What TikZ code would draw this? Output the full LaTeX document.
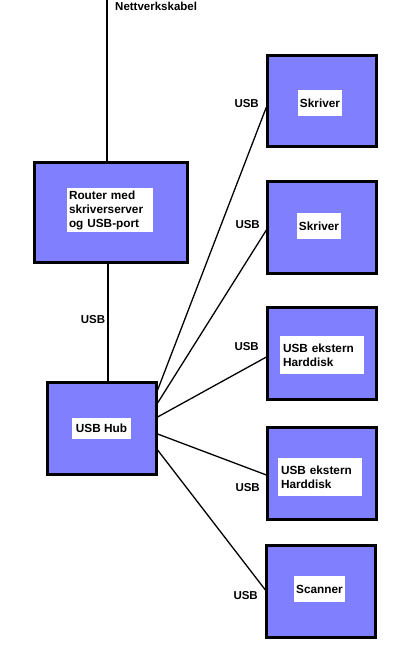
\documentclass[tikz,border=0pt]{standalone}
\usepackage{fontspec}
\setmainfont{Liberation Sans}
\definecolor{boxblue}{HTML}{8080FF}
\begin{document}
\begin{tikzpicture}[x=1pt,y=-1pt,
  dev/.style={draw=black,line width=2.2pt,fill=boxblue,inner sep=0pt},
  lbl/.style={fill=white,inner sep=0pt,font=\bfseries\fontsize{11.8}{14}\selectfont,align=left},
  usb/.style={font=\bfseries\fontsize{11.5}{14}\selectfont,inner sep=0pt},
  wire/.style={line width=1.3pt},
  vwire/.style={line width=2pt}]
\useasboundingbox (0,0) rectangle (408,663);
% devices
\node[dev,minimum width=153pt,minimum height=100pt] (router) at (111,212.5) {};
\node[dev,minimum width=109pt,minimum height=92pt] (hub) at (102,428.5) {};
\node[dev,minimum width=109pt,minimum height=91pt] (p1) at (322,101) {};
\node[dev,minimum width=109pt,minimum height=92pt] (p2) at (322,227.5) {};
\node[dev,minimum width=109pt,minimum height=92pt] (hd1) at (322,353.5) {};
\node[dev,minimum width=109pt,minimum height=92pt] (hd2) at (322,473.5) {};
\node[dev,minimum width=109pt,minimum height=92pt] (sc) at (321,591.5) {};
% inner labels
\node[lbl,minimum width=86pt,minimum height=44pt,text width=82pt] (trouter) at (110,210) {Router med\\skriverserver\\og USB-port};
\node[lbl,minimum width=59pt,minimum height=21pt,align=center] (thub) at (101.5,428.5) {USB Hub};
\node[lbl,minimum width=44pt,minimum height=26pt,align=center] (tp1) at (320,103) {Skriver};
\node[lbl,minimum width=44pt,minimum height=26pt,align=center] (tp2) at (319,226) {Skriver};
\node[lbl,minimum width=84pt,minimum height=38pt,text width=78pt] (thd1) at (322,355) {USB ekstern\\Harddisk};
\node[lbl,minimum width=84pt,minimum height=38pt,text width=78pt] (thd2) at (320,477) {USB ekstern\\Harddisk};
\node[lbl,minimum width=51pt,minimum height=26pt,align=center] (tsc) at (319.5,589) {Scanner};
% network cable
\coordinate (top) at (107,0);
\draw[vwire] (top) -- (top |- router.north);
\node[usb,anchor=west] (net) at (115,6) {Nettverkskabel};
% router to hub
\draw[vwire] ([xshift=-3pt]router.south) -- ([xshift=-3pt]router.south |- hub.north);
\node[usb] (u0) at (93,320) {USB};
% hub to devices
\draw[wire] ([yshift=38.5pt]hub.east) -- ([yshift=-6pt]p1.west);
\draw[wire] ([yshift=25.5pt]hub.east) -- ([yshift=-2.5pt]p2.west);
\draw[wire] ([yshift=11.5pt]hub.east) -- ([yshift=-3.5pt]hd1.west);
\draw[wire] ([yshift=-5.5pt]hub.east) -- ([yshift=-1.5pt]hd2.west);
\draw[wire] ([yshift=-21.5pt]hub.east) -- ([yshift=1.5pt]sc.west);
% USB labels
\node[usb,anchor=east] (u1) at (259,104) {USB};
\node[usb,anchor=east] (u2) at (260,225) {USB};
\node[usb,anchor=east] (u3) at (259,347) {USB};
\node[usb,anchor=east] (u4) at (260,488) {USB};
\node[usb,anchor=east] (u5) at (258,596) {USB};
\end{tikzpicture}
\end{document}
